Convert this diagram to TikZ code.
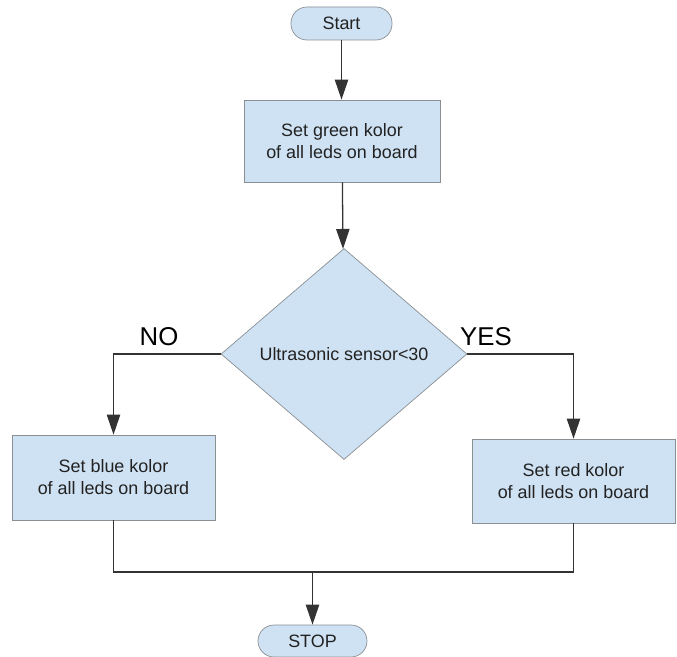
\documentclass[tikz,border=0pt]{standalone}
\usepackage{fontspec}
\setmainfont{Liberation Sans}
\usepackage{tikz}
\usetikzlibrary{arrows.meta,shapes.geometric}
\definecolor{boxfill}{HTML}{CFE2F3}
\definecolor{boxline}{HTML}{8A8F94}
\definecolor{boxtext}{HTML}{222222}
\tikzset{
  terminal/.style={rectangle,rounded corners=0.48cm,draw=boxline,fill=boxfill,line width=0.6pt,
    inner sep=0pt,text=boxtext,font=\fontsize{15.3}{18.8}\selectfont},
  process/.style={rectangle,draw=boxline,fill=boxfill,line width=0.6pt,inner sep=0pt,
    align=center,text=boxtext,font=\fontsize{15.3}{18.8}\selectfont},
  decision/.style={diamond,draw=boxline,fill=boxfill,line width=0.6pt,inner sep=0pt,
    text=boxtext,font=\fontsize{15.3}{18.8}\selectfont},
  answer/.style={font=\fontsize{22}{26}\selectfont,text=black},
  flow/.style={line width=1.1pt,draw=black!80},
  flowarrow/.style={flow,-{Triangle[length=0.6cm,width=0.4cm]}},
}
\begin{document}
\begin{tikzpicture}[x=0.03cm,y=-0.03cm]
      \useasboundingbox (0,0) rectangle (677,657);

      \node[terminal,minimum width=3.03cm,minimum height=0.99cm] (Start) at (341.5,23.5) {Start};
      \node[process,minimum width=5.88cm,minimum height=2.46cm] (Green) at (342,141)
        {Set green kolor\\of all leds on board};
      \node[decision,minimum width=7.38cm,minimum height=6.33cm] (Cond) at (344,354)
        {Ultrasonic sensor<30};
      \node[process,minimum width=6.09cm,minimum height=2.55cm] (Blue) at (113.5,477.5)
        {Set blue kolor\\of all leds on board};
      \node[process,minimum width=6.09cm,minimum height=2.52cm] (Red) at (573.5,481)
        {Set red kolor\\of all leds on board};
      \node[terminal,minimum width=3.27cm,minimum height=0.96cm] (Stop) at (312.5,641) {STOP};

      \node[answer] (No) at (159,337) {NO};
      \node[answer] (Yes) at (486,337) {YES};

      \coordinate (Join) at (312.5,572);

      \draw[flowarrow] (Start) -- (Start.south |- Green.north);
      \draw[flowarrow] (Green) -- (Cond);
      \draw[flowarrow] (Cond.west) -| (Blue.north);
      \draw[flowarrow] (Cond.east) -| (Red.north);
      \draw[flow] (Blue.south) |- (Join);
      \draw[flow] (Red.south) |- (Join);
      \draw[flowarrow] (Join) -- (Stop.north);
    \end{tikzpicture}
\end{document}
